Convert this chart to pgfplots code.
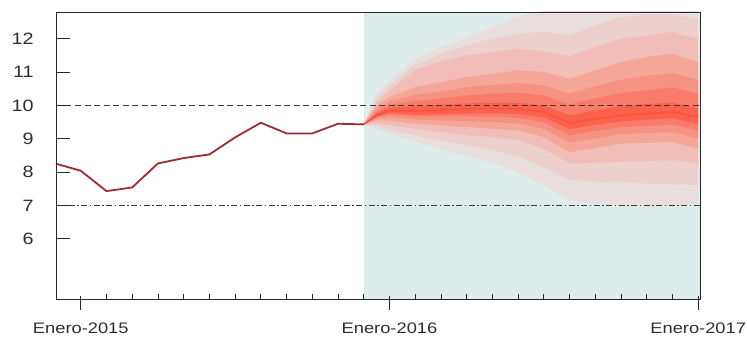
\documentclass[border=0pt]{standalone}
\usepackage{pgfplots}
\pgfplotsset{compat=1.18}
\usepackage{fontspec}
\setmainfont{Liberation Sans}[FakeStretch=1.2]
\definecolor{tealbg}{RGB}{222,236,236}
\definecolor{bA}{RGB}{232,222,222}
\definecolor{bB}{RGB}{237,208,205}
\definecolor{bC}{RGB}{241,190,183}
\definecolor{bD}{RGB}{244,166,153}
\definecolor{bE}{RGB}{246,146,130}
\definecolor{bF}{RGB}{248,124,105}
\definecolor{bG}{RGB}{250,98,78}
\definecolor{medc}{RGB}{250,82,62}
\definecolor{histc}{RGB}{155,45,55}
\definecolor{axc}{RGB}{40,40,40}
\begin{document}
\begin{tikzpicture}
\begin{axis}[
  scale only axis, width=644bp, height=287bp,
  xmin=-0.963, xmax=24.07, ymin=4.195, ymax=12.8,
  axis on top,
  axis line style={draw=axc, line width=0.8bp},
  tick align=inside, tick pos=left,
  xtick={0,12,24}, xticklabels={Enero-2015,Enero-2016,Enero-2017},
  minor xtick={1,2,3,4,5,6,7,8,9,10,11,13,14,15,16,17,18,19,20,21,22,23},
  ytick={6,7,8,9,10,11,12},
  major tick length=14bp, minor tick length=5bp,
  tick style={axc, line width=0.8bp},
  major x tick style={yshift=-10.5bp},
  ticklabel style={text=black!82},
  yticklabel style={font=\fontsize{16.5}{19}\selectfont, xshift=-19bp},
  xticklabel style={font=\fontsize{15.3}{18}\selectfont, yshift=-20.5bp},
  /pgf/number format/assume math mode=true,
]
% forecast background
\addplot[fill=tealbg, draw=none] coordinates {(11,4.195) (24.07,4.195) (24.07,12.8) (11,12.8)} -- cycle;
% fan bands (outer to inner)
\addplot[fill=bA, draw=none] coordinates {(11,9.43) (11.5,10.35) (12,10.75) (13,11.40) (14,11.75) (15,12.05) (16,12.35) (17,12.65) (18,12.85) (19,12.90) (20,13.20) (21,13.50) (22,13.60) (23,13.70) (24,13.50)
 (24,7.05) (23,6.98) (22,6.95) (21,6.98) (20,7.05) (19,7.15) (18,7.60) (17,7.98) (16,8.28) (15,8.48) (14,8.68) (13,8.92) (12,9.15) (11.5,9.30)} -- cycle;
\addplot[fill=bB, draw=none] coordinates {(11,9.43) (11.5,10.22) (12,10.60) (13,11.22) (14,11.55) (15,11.80) (16,12.00) (17,12.15) (18,12.20) (19,12.10) (20,12.40) (21,12.65) (22,12.72) (23,12.72) (24,12.60)
 (24,7.61) (23,7.64) (22,7.66) (21,7.70) (20,7.72) (19,7.76) (18,8.15) (17,8.46) (16,8.66) (15,8.80) (14,8.95) (13,9.10) (12,9.28) (11.5,9.38)} -- cycle;
\addplot[fill=bC, draw=none] coordinates {(11,9.43) (11.5,10.10) (12,10.45) (13,11.05) (14,11.32) (15,11.50) (16,11.60) (17,11.70) (18,11.62) (19,11.48) (20,11.75) (21,12.00) (22,12.10) (23,12.20) (24,12.00)
 (24,8.26) (23,8.36) (22,8.33) (21,8.31) (20,8.28) (19,8.26) (18,8.70) (17,8.95) (16,9.05) (15,9.10) (14,9.20) (13,9.30) (12,9.40) (11.5,9.45)} -- cycle;
\addplot[fill=bD, draw=none] coordinates {(11,9.43) (11.5,9.98) (12,10.25) (13,10.55) (14,10.70) (15,10.85) (16,10.95) (17,11.05) (18,11.00) (19,10.80) (20,11.05) (21,11.30) (22,11.45) (23,11.55) (24,11.30)
 (24,8.70) (23,8.90) (22,8.88) (21,8.86) (20,8.72) (19,8.60) (18,9.05) (17,9.25) (16,9.30) (15,9.35) (14,9.40) (13,9.45) (12,9.55) (11.5,9.55)} -- cycle;
\addplot[fill=bE, draw=none] coordinates {(11,9.43) (11.5,9.89) (12,10.12) (13,10.31) (14,10.42) (15,10.54) (16,10.61) (17,10.67) (18,10.60) (19,10.36) (20,10.57) (21,10.77) (22,10.89) (23,10.97) (24,10.76)
 (24,9.01) (23,9.20) (22,9.17) (21,9.14) (20,9.01) (19,8.89) (18,9.30) (17,9.46) (16,9.50) (15,9.53) (14,9.55) (13,9.58) (12,9.65) (11.5,9.60)} -- cycle;
\addplot[fill=bF, draw=none] coordinates {(11,9.43) (11.5,9.82) (12,10.02) (13,10.13) (14,10.21) (15,10.30) (16,10.35) (17,10.38) (18,10.30) (19,10.03) (20,10.21) (21,10.37) (22,10.46) (23,10.54) (24,10.34)
 (24,9.25) (23,9.42) (22,9.38) (21,9.35) (20,9.23) (19,9.10) (18,9.49) (17,9.63) (16,9.66) (15,9.67) (14,9.67) (13,9.67) (12,9.72) (11.5,9.64)} -- cycle;
\addplot[fill=bG, draw=none] coordinates {(11,9.43) (11.5,9.76) (12,9.93) (13,9.98) (14,10.02) (15,10.06) (16,10.08) (17,10.08) (18,10.00) (19,9.70) (20,9.85) (21,9.98) (22,10.04) (23,10.08) (24,9.92)
 (24,9.45) (23,9.61) (22,9.57) (21,9.52) (20,9.42) (19,9.29) (18,9.64) (17,9.74) (16,9.76) (15,9.75) (14,9.73) (13,9.72) (12,9.77) (11.5,9.67)} -- cycle;
% median
\addplot[medc, line width=1.5bp] coordinates {(11,9.43) (11.5,9.70) (12,9.85) (13,9.83) (14,9.86) (15,9.90) (16,9.92) (17,9.90) (18,9.80) (19,9.47) (20,9.60) (21,9.70) (22,9.75) (23,9.80) (24,9.65)};
% reference lines
\addplot[axc!90, line width=0.9bp, dash pattern=on 6bp off 3.5bp] coordinates {(-0.963,10) (24.07,10)};
\addplot[axc!90, line width=0.9bp, dash pattern=on 6bp off 2.5bp on 1.5bp off 2.5bp] coordinates {(-0.963,7) (24.07,7)};
% history
\addplot[histc, line width=1.8bp] coordinates {(-1,8.26) (0,8.04) (1,7.43) (2,7.54) (3,8.26) (4,8.42) (5,8.53) (6,9.04) (7,9.48) (8,9.16) (9,9.16) (10,9.45) (11,9.43)};
\end{axis}
\pgfresetboundingbox
\path[use as bounding box] (-56bp,-40bp) rectangle (691bp,299bp);
\end{tikzpicture}
\end{document}
